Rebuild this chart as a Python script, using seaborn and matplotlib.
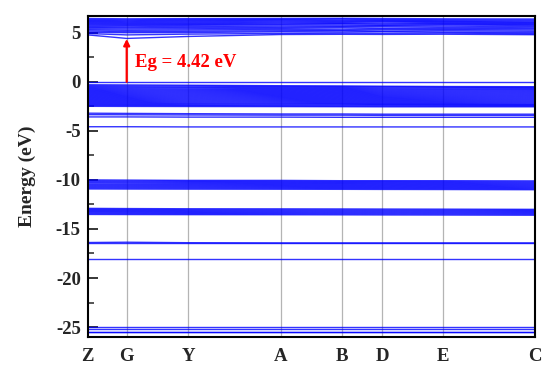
import matplotlib
matplotlib.use("Agg")
import matplotlib.pyplot as plt
import numpy as np
import pandas as pd
import seaborn as sns
from matplotlib.ticker import MultipleLocator

# High-symmetry path
k_labels = ["Z", "G", "Y", "A", "B", "D", "E", "C"]
k_pos = [0.0, 0.087, 0.224, 0.432, 0.568, 0.658, 0.794, 1.0]

# Band energies (eV) at each high-symmetry point, one row per band
conduction_bands = [
    [4.78, 4.42, 4.62, 4.82, 4.84, 4.83, 4.85, 4.80],
    [4.92, 4.78, 4.86, 4.93, 4.96, 4.95, 4.97, 4.90],
    [5.05, 5.00, 5.02, 5.10, 5.08, 5.12, 5.06, 5.02],
    [5.18, 5.12, 5.15, 5.20, 5.22, 5.18, 5.20, 5.15],
    [5.30, 5.25, 5.28, 5.33, 5.30, 5.35, 5.32, 5.28],
    [5.40, 5.38, 5.40, 5.45, 5.48, 5.44, 5.42, 5.40],
    [5.52, 5.50, 5.52, 5.56, 5.58, 5.60, 5.55, 5.50],
    [5.62, 5.60, 5.64, 5.68, 5.66, 5.70, 5.68, 5.62],
    [5.74, 5.72, 5.76, 5.80, 5.78, 5.76, 5.80, 5.74],
    [5.85, 5.82, 5.85, 5.88, 5.90, 5.87, 5.88, 5.84],
    [5.95, 5.92, 5.94, 5.98, 5.96, 5.98, 5.95, 5.92],
    [6.05, 6.02, 6.04, 6.08, 6.06, 6.10, 6.05, 6.02],
    [6.15, 6.12, 6.15, 6.18, 6.16, 6.18, 6.14, 6.10],
    [6.24, 6.22, 6.25, 6.28, 6.26, 6.25, 6.22, 6.20],
    [6.34, 6.32, 6.35, 6.36, 6.38, 6.35, 6.32, 6.30],
    [6.45, 6.42, 6.44, 6.46, 6.47, 6.45, 6.42, 6.40],
]

valence_bands = [
    [0.00, 0.00, 0.00, 0.00, 0.00, 0.00, 0.00, 0.00],
    [-0.30, -0.32, -0.35, -0.40, -0.42, -0.45, -0.48, -0.50],
    [-0.40, -0.42, -0.44, -0.48, -0.50, -0.52, -0.55, -0.58],
    [-0.50, -0.52, -0.55, -0.58, -0.60, -0.62, -0.64, -0.66],
    [-0.60, -0.62, -0.64, -0.68, -0.70, -0.72, -0.74, -0.76],
    [-0.70, -0.72, -0.75, -0.78, -0.80, -0.82, -0.83, -0.85],
    [-0.80, -0.82, -0.85, -0.88, -0.90, -0.92, -0.93, -0.95],
    [-0.90, -0.92, -0.95, -0.98, -1.00, -1.02, -1.03, -1.05],
    [-1.00, -1.02, -1.05, -1.08, -1.10, -1.12, -1.13, -1.15],
    [-1.10, -1.12, -1.15, -1.18, -1.20, -1.22, -1.23, -1.25],
    [-1.20, -1.22, -1.25, -1.28, -1.30, -1.32, -1.33, -1.35],
    [-1.30, -1.32, -1.35, -1.38, -1.40, -1.42, -1.43, -1.45],
    [-1.40, -1.42, -1.45, -1.48, -1.50, -1.52, -1.53, -1.55],
    [-1.50, -1.52, -1.55, -1.58, -1.60, -1.62, -1.63, -1.65],
    [-1.60, -1.62, -1.65, -1.68, -1.70, -1.72, -1.73, -1.75],
    [-1.70, -1.72, -1.75, -1.78, -1.80, -1.82, -1.83, -1.85],
    [-1.80, -1.82, -1.85, -1.88, -1.90, -1.92, -1.93, -1.95],
    [-1.90, -1.92, -1.95, -1.98, -2.00, -2.02, -2.03, -2.05],
    [-2.00, -2.02, -2.05, -2.08, -2.10, -2.12, -2.13, -2.15],
    [-2.10, -2.12, -2.15, -2.18, -2.20, -2.22, -2.23, -2.25],
    [-2.20, -2.22, -2.24, -2.27, -2.28, -2.30, -2.31, -2.33],
    [-2.30, -2.32, -2.34, -2.36, -2.37, -2.38, -2.39, -2.40],
    [-2.40, -2.41, -2.43, -2.45, -2.46, -2.47, -2.48, -2.48],
    [-2.50, -2.51, -2.52, -2.53, -2.54, -2.55, -2.55, -2.55],
    [-3.20, -3.22, -3.25, -3.28, -3.28, -3.30, -3.30, -3.30],
    [-3.35, -3.36, -3.38, -3.40, -3.40, -3.42, -3.42, -3.42],
    [-3.58, -3.58, -3.60, -3.60, -3.62, -3.62, -3.62, -3.62],
    [-4.58, -4.58, -4.60, -4.60, -4.60, -4.60, -4.60, -4.60],
]

semicore_bands = [
    [-10.00, -10.02, -10.05, -10.05, -10.08, -10.08, -10.08, -10.10],
    [-10.10, -10.12, -10.14, -10.15, -10.17, -10.17, -10.18, -10.20],
    [-10.20, -10.22, -10.24, -10.25, -10.27, -10.27, -10.28, -10.30],
    [-10.30, -10.32, -10.34, -10.35, -10.36, -10.37, -10.38, -10.40],
    [-10.42, -10.43, -10.44, -10.45, -10.46, -10.47, -10.48, -10.50],
    [-10.52, -10.53, -10.54, -10.55, -10.56, -10.57, -10.58, -10.60],
    [-10.62, -10.63, -10.64, -10.65, -10.66, -10.67, -10.68, -10.70],
    [-10.72, -10.73, -10.74, -10.75, -10.76, -10.77, -10.78, -10.80],
    [-10.82, -10.83, -10.84, -10.85, -10.86, -10.87, -10.88, -10.90],
    [-10.92, -10.93, -10.94, -10.95, -10.96, -10.97, -10.98, -11.00],
    [-12.90, -12.92, -12.94, -12.95, -12.96, -12.97, -12.98, -13.00],
    [-13.00, -13.02, -13.04, -13.05, -13.06, -13.07, -13.08, -13.10],
    [-13.10, -13.12, -13.14, -13.15, -13.16, -13.17, -13.18, -13.20],
    [-13.20, -13.22, -13.24, -13.25, -13.26, -13.27, -13.28, -13.30],
    [-13.30, -13.32, -13.34, -13.35, -13.36, -13.37, -13.38, -13.40],
    [-13.42, -13.43, -13.44, -13.45, -13.46, -13.47, -13.48, -13.50],
    [-13.52, -13.53, -13.54, -13.55, -13.56, -13.57, -13.58, -13.60],
]

deep_bands = [
    [-16.38, -16.35, -16.40, -16.42, -16.42, -16.42, -16.42, -16.42],
    [-16.42, -16.42, -16.42, -16.42, -16.42, -16.42, -16.42, -16.42],
    [-18.02, -18.02, -18.02, -18.02, -18.02, -18.02, -18.02, -18.02],
    [-25.00, -25.00, -25.00, -25.00, -25.00, -25.00, -25.00, -25.00],
    [-25.20, -25.20, -25.20, -25.20, -25.20, -25.20, -25.20, -25.20],
    [-25.48, -25.48, -25.48, -25.48, -25.48, -25.48, -25.48, -25.48],
    [-25.50, -25.50, -25.50, -25.50, -25.50, -25.50, -25.50, -25.50],
]

band_gap = 4.42
vbm = 0.0

# Long-form table: one row per (band, k-point)
rows = []
band_id = 0
for group in (conduction_bands, valence_bands, semicore_bands, deep_bands):
    for band in group:
        for k, e in zip(k_pos, band):
            rows.append({"band": band_id, "k": k, "E": e})
        band_id += 1
df = pd.DataFrame(rows)

sns.set_style("ticks")
plt.rcParams["font.family"] = ["Liberation Serif", "DejaVu Serif"]
plt.rcParams["font.weight"] = "bold"
plt.rcParams["axes.unicode_minus"] = False

fig = plt.figure(figsize=(5.42, 3.65), dpi=100)
ax = fig.add_axes([0.162, 0.077, 0.825, 0.879])

for kp in k_pos[1:-1]:
    ax.axvline(kp, color="#b4b4b4", lw=0.9, zorder=0)

sns.lineplot(data=df, x="k", y="E", units="band", estimator=None, sort=False,
             color="#0000ff", lw=1.0, alpha=0.8, legend=False, ax=ax)

# Gap arrow at G
ax.annotate("", xy=(k_pos[1], vbm + band_gap - 0.05), xytext=(k_pos[1], vbm),
            arrowprops=dict(arrowstyle="-|>", color="red", lw=1.6,
                            mutation_scale=9, shrinkA=0, shrinkB=0))
ax.text(0.105, 2.0, f"Eg = {band_gap:.2f} eV", color="red", fontsize=13.5,
        fontweight="bold", va="center", ha="left")

ax.set_xlim(0, 1)
ax.set_ylim(-26.0, 6.7)
ax.set_xticks(k_pos)
ax.set_xticklabels(k_labels, fontsize=13.5, fontweight="bold")
ax.tick_params(axis="x", length=0, pad=8)
ax.yaxis.set_major_locator(MultipleLocator(5))
ax.yaxis.set_minor_locator(MultipleLocator(2.5))
ax.tick_params(axis="y", which="major", direction="in", length=7, width=1.3,
               labelsize=13.5, left=True, right=False, pad=5)
ax.tick_params(axis="y", which="minor", direction="in", length=4, width=1.1,
               left=True, right=False)
for lab in ax.get_yticklabels():
    lab.set_fontweight("bold")
ax.set_xlabel("")
ax.set_ylabel("Energy (eV)", fontsize=14, fontweight="bold", labelpad=14)

for sp in ax.spines.values():
    sp.set_visible(True)
    sp.set_linewidth(1.5)
    sp.set_color("black")

fig.savefig("out.png", dpi=100)
